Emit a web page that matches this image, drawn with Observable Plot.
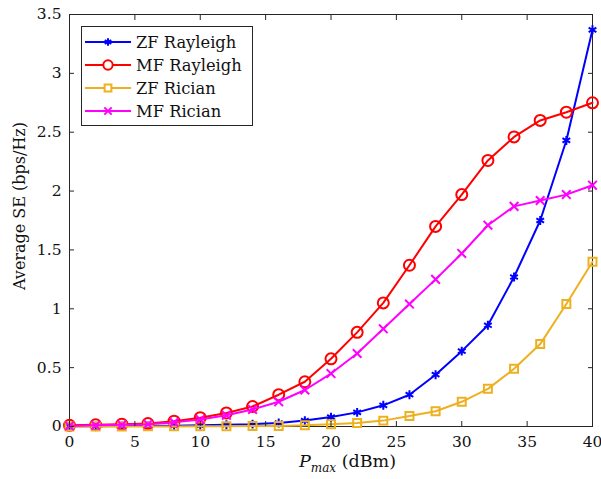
<!DOCTYPE html>
<html><head><meta charset="utf-8">
<script src="https://cdn.jsdelivr.net/npm/d3@7"></script>
<script src="https://cdn.jsdelivr.net/npm/@observablehq/plot@0.6"></script>
<style>
body{margin:0;background:#fff;font-family:"DejaVu Serif",serif;}
#wrap{position:relative;width:601px;height:479px;}
#legend{position:absolute;left:81px;top:26px;width:172px;height:100px;border:1px solid #262626;background:#fff;box-sizing:border-box;font-size:16.3px;color:#111;}
.row{position:absolute;left:3px;height:22px;display:flex;align-items:center;}
.row span{margin-left:5px;}
#xlab{position:absolute;top:451px;left:299px;font-size:17.5px;color:#111;white-space:nowrap;}
#ylab{position:absolute;left:19px;top:206px;transform:translate(-50%,-50%) rotate(-90deg);font-size:16px;white-space:nowrap;color:#111;}
</style></head>
<body><div id="wrap"></div>
<script>
const pmax = [0,2,4,6,8,10,12,14,16,18,20,22,24,26,28,30,32,34,36,38,40];
const zfRayleigh = [0.002,0.003,0.004,0.005,0.007,0.01,0.015,0.02,0.03,0.05,0.08,0.12,0.18,0.27,0.44,0.64,0.86,1.27,1.75,2.43,3.37];
const mfRayleigh = [0.01,0.015,0.02,0.025,0.045,0.075,0.115,0.17,0.27,0.38,0.575,0.80,1.05,1.37,1.70,1.97,2.26,2.46,2.60,2.67,2.75];
const zfRician = [0.0,0.0,0.0,0.001,0.001,0.002,0.003,0.004,0.005,0.01,0.02,0.03,0.05,0.09,0.13,0.21,0.32,0.49,0.70,1.04,1.40];
const mfRician = [0.005,0.01,0.015,0.02,0.035,0.06,0.095,0.145,0.21,0.31,0.45,0.62,0.83,1.04,1.25,1.47,1.71,1.87,1.92,1.97,2.05];
const seriesNames = ["ZF Rayleigh","MF Rayleigh","ZF Rician","MF Rician"];
const seriesColors = ["#0000ff","#ff0000","#EDB120","#ff00ff"];
const seriesSymbols = ["asterisk","circle","square","times"];
const seriesR = [4.2,5.5,4.5,4];
const xTicks = [0,5,10,15,20,25,30,35,40];
const yTicks = [0,0.5,1,1.5,2,2.5,3,3.5];

const values = [zfRayleigh, mfRayleigh, zfRician, mfRician];
const data = [];
values.forEach((arr,i)=>arr.forEach((v,j)=>data.push({s:seriesNames[i], x:pmax[j], y:v})));

const marks = [Plot.frame({stroke:"#262626", strokeWidth:1})];
seriesNames.forEach((name,i)=>{
  const d = data.filter(e=>e.s===name);
  marks.push(Plot.line(d,{x:"x",y:"y",stroke:seriesColors[i],strokeWidth:2}));
  marks.push(Plot.dot(d,{x:"x",y:"y",stroke:seriesColors[i],fill: seriesSymbols[i]==="asterisk"?seriesColors[i]:"none",symbol:seriesSymbols[i],r:seriesR[i],strokeWidth:2}));
});
marks.push(Plot.axisX(xTicks,{anchor:"bottom",tickSize:-5,tickPadding:14,label:null,fontSize:15.5,stroke:"#262626",color:"#111"}));
marks.push(Plot.axisX(xTicks,{anchor:"top",tickSize:-5,tickFormat:()=>"",label:null,stroke:"#262626"}));
marks.push(Plot.axisY(yTicks,{anchor:"left",tickSize:-5,tickPadding:13,label:null,fontSize:15.5,tickFormat:d=>String(d),stroke:"#262626",color:"#111"}));
marks.push(Plot.axisY(yTicks,{anchor:"right",tickSize:-5,tickFormat:()=>"",label:null,stroke:"#262626"}));

const chart = Plot.plot({
  width:601,height:479,
  marginLeft:69,marginRight:9,marginTop:14,marginBottom:53,
  x:{domain:[0,40]}, y:{domain:[0,3.5]},
  style:{fontFamily:"DejaVu Serif, serif",fontSize:"15.5px",color:"#111",background:"#fff"},
  marks
});
const wrap = document.getElementById("wrap");
wrap.appendChild(chart);

// legend
const leg = document.createElement("div"); leg.id="legend";
seriesNames.forEach((name,i)=>{
  const row=document.createElement("div"); row.className="row"; row.style.top=(4+i*23)+"px";
  const symType = {asterisk:d3.symbolAsterisk,circle:d3.symbolCircle,square:d3.symbolSquare,times:d3.symbolTimes}[seriesSymbols[i]];
  const r=seriesR[i]*0.85;
  const path=d3.symbol(symType, Math.PI*r*r)();
  row.innerHTML=`<svg width="46" height="20"><line x1="0" x2="46" y1="10" y2="10" stroke="${seriesColors[i]}" stroke-width="2"/><path transform="translate(23,10)" d="${path}" stroke="${seriesColors[i]}" stroke-width="2" fill="${seriesSymbols[i]==='asterisk'?seriesColors[i]:'#fff'}"/></svg><span>${name}</span>`;
  leg.appendChild(row);
});
wrap.appendChild(leg);
const xl=document.createElement("div"); xl.id="xlab"; xl.innerHTML="<i>P</i><sub style='font-size:12px'><i>max</i></sub> (dBm)"; wrap.appendChild(xl);
const yl=document.createElement("div"); yl.id="ylab"; yl.textContent="Average SE (bps/Hz)"; wrap.appendChild(yl);
</script></body></html>
